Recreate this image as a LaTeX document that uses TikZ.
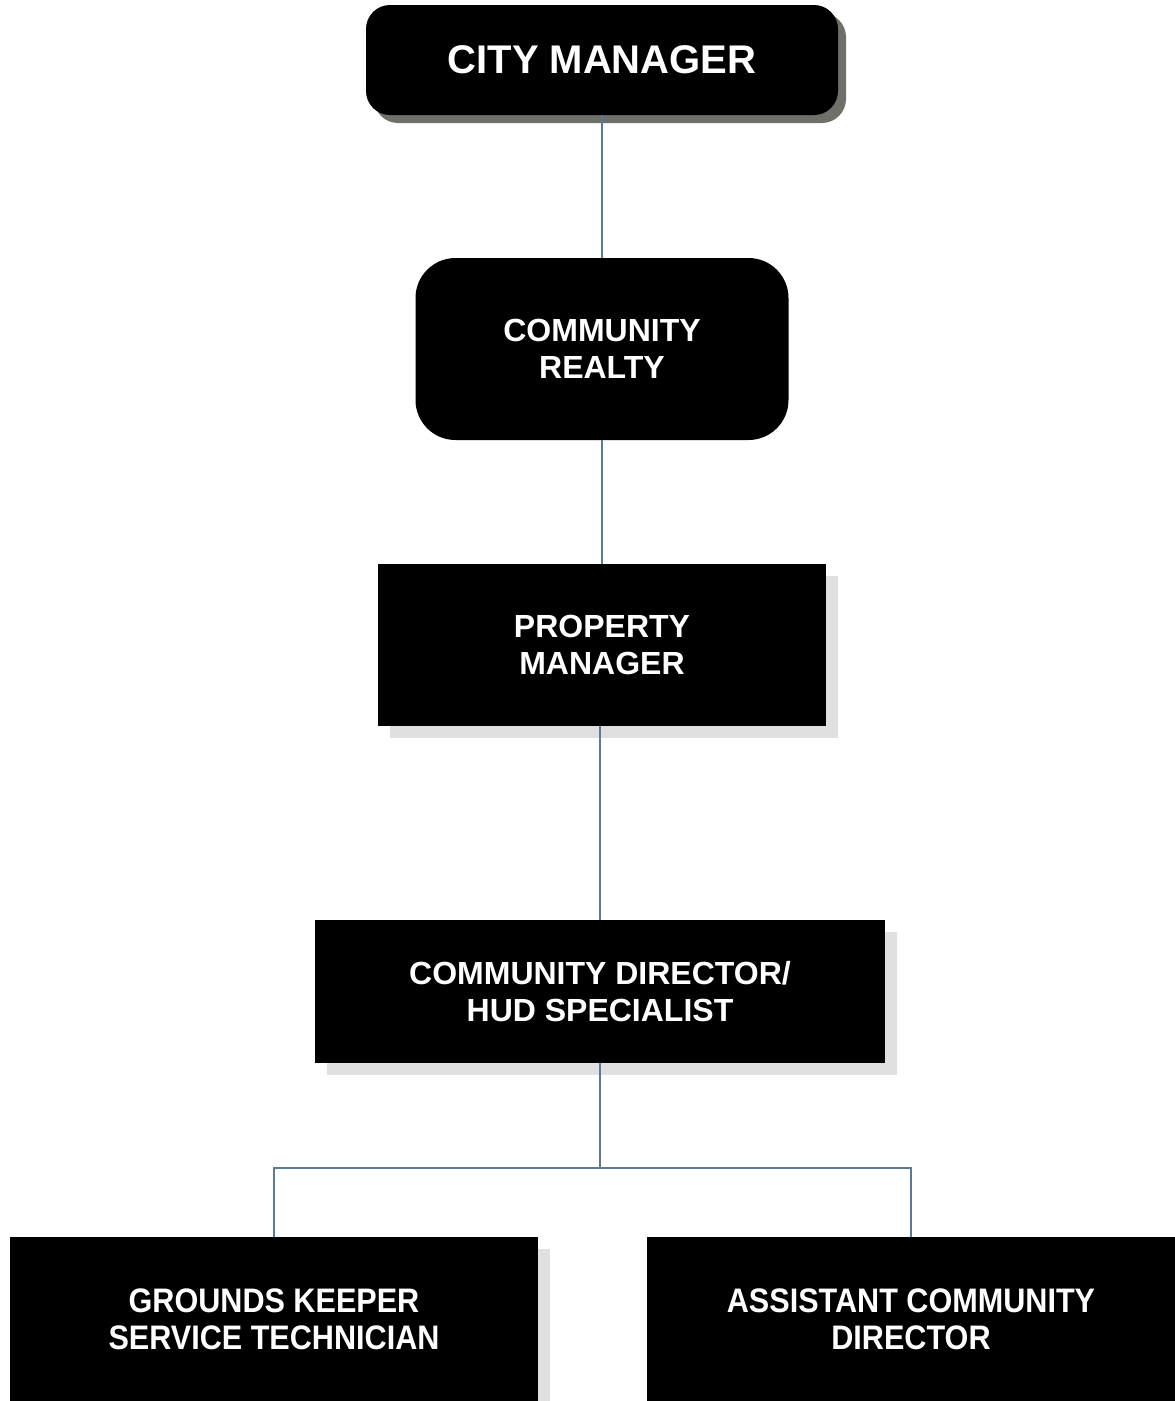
\documentclass[tikz,border=0pt]{standalone}
\usepackage{fontspec}
\setmainfont{Liberation Sans}
\newfontfamily\narrowfont[FakeStretch=0.9]{Liberation Sans}
\usetikzlibrary{shadows}
\definecolor{linkblue}{RGB}{90,122,150}
\definecolor{softshade}{RGB}{224,224,224}
\definecolor{darkshade}{RGB}{112,112,106}
\newcommand{\boxfont}{\bfseries\fontsize{32pt}{37pt}\selectfont}
\newcommand{\lowfont}{\narrowfont\bfseries\fontsize{34pt}{37pt}\selectfont}

\begin{document}
\begin{tikzpicture}[x=1pt,y=-1pt,
  every node/.style={inner sep=0pt,outer sep=0pt},
  box/.style={fill=black,text=white,align=center,font=\boxfont},
  softdrop/.style={drop shadow={shadow xshift=12pt,shadow yshift=-12pt,fill=softshade,opacity=1}},
  link/.style={draw=linkblue,line width=2pt}]
  % canvas 1175 x 1401 px, one unit = one px, y runs down
  \path[use as bounding box] (0,0) rectangle (1175,1401);
  % ---- boxes: centres and sizes read off the source ----
  \node[box,rounded corners=24pt,minimum width=472pt,minimum height=110pt,
        font=\bfseries\fontsize{40pt}{44pt}\selectfont,
        drop shadow={shadow xshift=8pt,shadow yshift=-8pt,fill=darkshade,opacity=1}]
        (cm) at (602,60) {CITY MANAGER};
  \node[box,rounded corners=40pt,minimum width=373pt,minimum height=182pt]
        (cr) at (602,349) {COMMUNITY\\REALTY};
  \node[box,softdrop,minimum width=448pt,minimum height=162pt]
        (pm) at (602,645) {PROPERTY\\MANAGER};
  \node[box,softdrop,minimum width=570pt,minimum height=143pt]
        (cd) at (600,991.5) {COMMUNITY DIRECTOR/\\HUD SPECIALIST};
  \node[box,softdrop,font=\lowfont,minimum width=528pt,minimum height=164pt]
        (gk) at (274,1319) {GROUNDS KEEPER\\SERVICE TECHNICIAN};
  \node[box,softdrop,font=\lowfont,minimum width=528pt,minimum height=164pt]
        (acd) at (911,1319) {ASSISTANT COMMUNITY\\DIRECTOR};
  % ---- connectors ----
  \coordinate (bus) at (600,1168);
  \draw[link] (cm.south) -- (cr.north);
  \draw[link] (cr.south) -- (pm.north);
  \draw[link] (pm.south -| cd.north) -- (cd.north);
  \draw[link] (cd.south) -- (bus);
  \draw[link] (bus) -| (gk.north);
  \draw[link] (bus) -| (acd.north);
\end{tikzpicture}
\end{document}
